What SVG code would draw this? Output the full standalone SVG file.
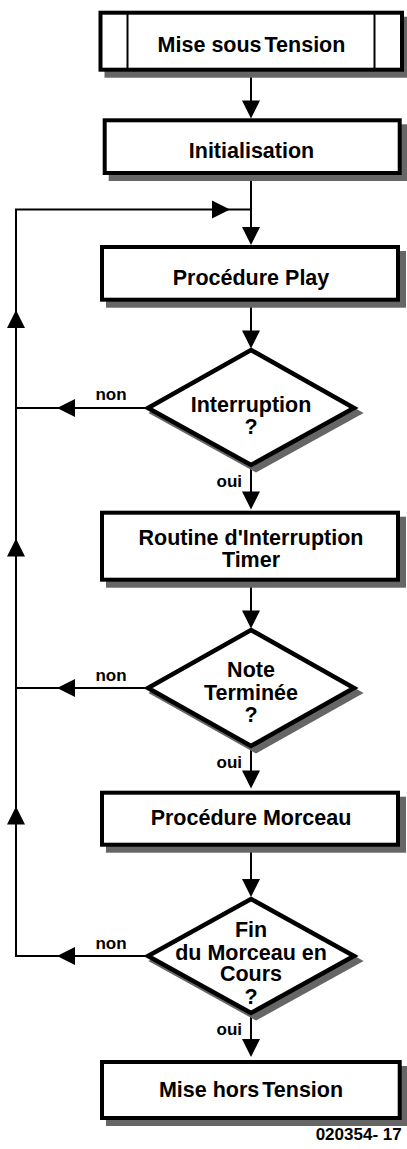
<svg xmlns="http://www.w3.org/2000/svg" width="407" height="1149" viewBox="0 0 407 1149">
<style>
.box{fill:#fff;stroke:#000;stroke-width:4}
.shadow{fill:#666;stroke:none}
.dia{fill:#fff;stroke:#000;stroke-width:4.5;stroke-linejoin:miter}
.dshadow{fill:#666;stroke:#666;stroke-width:4.5}
.t{font-family:"Liberation Sans",Arial,Helvetica,sans-serif;font-weight:bold;font-size:21.5px;text-anchor:middle;fill:#000}
.lbl{font-family:"Liberation Sans",Arial,Helvetica,sans-serif;font-weight:bold;font-size:17px;fill:#000}
.ln{fill:none;stroke:#000;stroke-width:2}
.ah{fill:#000;stroke:none}
</style>
<defs>
<path id="arr" d="M0,0 L-9,-18 L9,-18 Z"/>
</defs>
<g id="connectors">
<line class="ln" x1="251" y1="71" x2="251" y2="110"/>
<line class="ln" x1="251" y1="175" x2="251" y2="238"/>
<polyline class="ln" points="148,956 16,956 16,209.5 251,209.5"/>
<line class="ln" x1="148" y1="408" x2="16" y2="408"/>
<line class="ln" x1="148" y1="688" x2="16" y2="688"/>
<line class="ln" x1="251" y1="301" x2="251" y2="340"/>
<line class="ln" x1="251" y1="466" x2="251" y2="502"/>
<line class="ln" x1="251" y1="581" x2="251" y2="620"/>
<line class="ln" x1="251" y1="746" x2="251" y2="782"/>
<line class="ln" x1="251" y1="846" x2="251" y2="890"/>
<line class="ln" x1="251" y1="1014" x2="251" y2="1050"/>
<use href="#arr" class="ah" transform="translate(251,118.5)"/>
<use href="#arr" class="ah" transform="translate(251,245)"/>
<use href="#arr" class="ah" transform="translate(251,348.5)"/>
<use href="#arr" class="ah" transform="translate(251,509.5)"/>
<use href="#arr" class="ah" transform="translate(251,628.5)"/>
<use href="#arr" class="ah" transform="translate(251,788.5)"/>
<use href="#arr" class="ah" transform="translate(251,897)"/>
<use href="#arr" class="ah" transform="translate(251,1057)"/>
<use href="#arr" class="ah" transform="translate(16,310) rotate(180)"/>
<use href="#arr" class="ah" transform="translate(16,538.5) rotate(180)"/>
<use href="#arr" class="ah" transform="translate(16,806.5) rotate(180)"/>
<use href="#arr" class="ah" transform="translate(57,408) rotate(90)"/>
<use href="#arr" class="ah" transform="translate(57,688) rotate(90)"/>
<use href="#arr" class="ah" transform="translate(57,956) rotate(90)"/>
<use href="#arr" class="ah" transform="translate(230,209.5) rotate(-90)"/>
<text class="lbl" x="111" y="400" text-anchor="middle">non</text>
<text class="lbl" x="111" y="681" text-anchor="middle">non</text>
<text class="lbl" x="111" y="948.5" text-anchor="middle">non</text>
<text class="lbl" x="242" y="487" text-anchor="end">oui</text>
<text class="lbl" x="242" y="767.5" text-anchor="end">oui</text>
<text class="lbl" x="242" y="1035" text-anchor="end">oui</text>
</g>
<g id="n-start">
<rect class="shadow" x="104.5" y="16.7" width="305.5" height="61"/>
<rect class="box" x="100.5" y="12.7" width="301.5" height="57"/>
<line x1="127.5" y1="12.7" x2="127.5" y2="69.7" stroke="#000" stroke-width="2"/>
<line x1="374.5" y1="12.7" x2="374.5" y2="69.7" stroke="#000" stroke-width="2"/>
<text class="t" x="251.5" y="52">Mise sous <tspan dx="-3">Tension</tspan></text>
</g>
<g id="n-init">
<rect class="shadow" x="108.7" y="124.3" width="299" height="56.7"/>
<rect class="box" x="104.7" y="120.3" width="295" height="52.7"/>
<text class="t" x="251.5" y="158">Initialisation</text>
</g>
<g id="n-play">
<rect class="shadow" x="106" y="251" width="300" height="56.7"/>
<rect class="box" x="102" y="247" width="296" height="52.7"/>
<text class="t" x="251" y="285">Procédure Play</text>
</g>
<g id="n-interruption">
<polygon class="dshadow" points="256,355 359,413 256,470 153,413"/>
<polygon class="dia" points="251,350 354,408 251,465 148,408"/>
<text class="t" x="251" y="411.7">Interruption</text>
<text class="t" x="251" y="434">?</text>
</g>
<g id="n-routine">
<rect class="shadow" x="106" y="516.7" width="300" height="71"/>
<rect class="box" x="102" y="512.7" width="296" height="67"/>
<text class="t" x="251" y="545">Routine d'Interruption</text>
<text class="t" x="251" y="566.7">Timer</text>
</g>
<g id="n-note">
<polygon class="dshadow" points="256,635 359,693 256,751 153,693"/>
<polygon class="dia" points="251,630 354,688 251,746 148,688"/>
<text class="t" x="251" y="676.7">Note</text>
<text class="t" x="251" y="700">Terminée</text>
<text class="t" x="251" y="721.7">?</text>
</g>
<g id="n-morceau">
<rect class="shadow" x="106" y="796.7" width="300" height="56"/>
<rect class="box" x="102" y="792.7" width="296" height="52"/>
<text class="t" x="251" y="825">Procédure Morceau</text>
</g>
<g id="n-fin">
<polygon class="dshadow" points="256,904 359,961 256,1018 153,961"/>
<polygon class="dia" points="251,899 354,956 251,1013 148,956"/>
<text class="t" x="251" y="936.7">Fin</text>
<text class="t" x="251" y="959.5">du Morceau en</text>
<text class="t" x="251" y="981.3">Cours</text>
<text class="t" x="251" y="1004.2">?</text>
</g>
<g id="n-end">
<rect class="shadow" x="106" y="1066" width="301.7" height="60"/>
<rect class="box" x="102" y="1062" width="297.7" height="56"/>
<text class="t" x="251" y="1096.7">Mise hors <tspan dx="-3">Tension</tspan></text>
</g>
<text class="lbl" x="401.7" y="1140" text-anchor="end" font-size="15">020354- 17</text>
</svg>
